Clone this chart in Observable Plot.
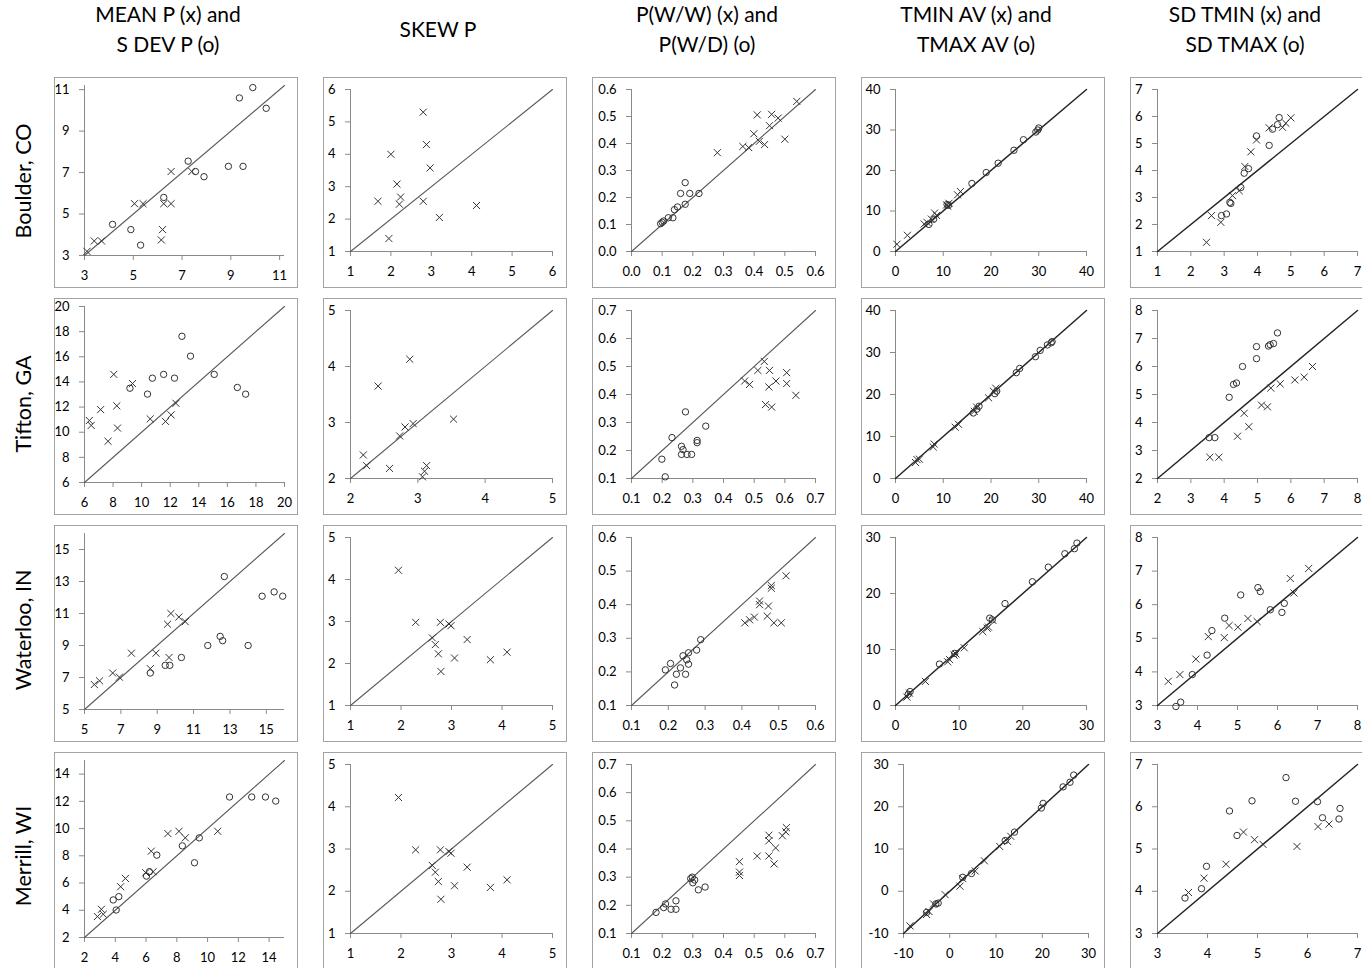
<!DOCTYPE html>
<html><head><meta charset="utf-8">
<script src="https://cdn.jsdelivr.net/npm/d3@7"></script>
<script src="https://cdn.jsdelivr.net/npm/@observablehq/plot@0.6"></script>
<style>
html,body{margin:0;padding:0;background:#fff;}
#chart{position:relative;width:1362px;height:968px;overflow:hidden;background:#fff;font-family:Lato,"Open Sans",sans-serif;color:#000;}
.panel{position:absolute;box-shadow:inset 0 0 0 1px #a3a3a3;}
.panel svg{position:absolute;left:0;top:0;background:transparent;}
.ctitle{position:absolute;width:260px;text-align:center;font-size:21px;line-height:30px;}
.rlabel{position:absolute;width:200px;height:26px;line-height:26px;text-align:center;font-size:21.5px;transform:rotate(-90deg);}
</style>
</head><body>
<div id="chart"></div>
<script>
// ---------- column titles & row labels ----------
const colTitles = [["MEAN P (x) and","S DEV P (o)"],["SKEW P"],["P(W/W) (x) and","P(W/D) (o)"],["TMIN AV (x) and","TMAX AV (o)"],["SD TMIN (x) and","SD TMAX (o)"]];
const rowLabels = ["Boulder, CO","Tifton, GA","Waterloo, IN","Merrill, WI"];

// ---------- axis extents and ticks ----------
const bMeanDomain=[3,11.2], bMeanTicks=[3,5,7,9,11];
const bSkewDomain=[1,6], bSkewTicks=[1,2,3,4,5,6];
const bPDomain=[0,0.6], bPTicks=[0,0.1,0.2,0.3,0.4,0.5,0.6];
const bTDomain=[0,40], bTTicks=[0,10,20,30,40];
const bSdDomain=[1,7], bSdTicks=[1,2,3,4,5,6,7];

const tMeanDomain=[6,20], tMeanTicks=[6,8,10,12,14,16,18,20];
const tSkewDomain=[2,5], tSkewTicks=[2,3,4,5];
const tPDomain=[0.1,0.7], tPTicks=[0.1,0.2,0.3,0.4,0.5,0.6,0.7];
const tTDomain=[0,40], tTTicks=[0,10,20,30,40];
const tSdDomain=[2,8], tSdTicks=[2,3,4,5,6,7,8];

const wMeanDomain=[5,16], wMeanTicks=[5,7,9,11,13,15];
const wSkewDomain=[1,5], wSkewTicks=[1,2,3,4,5];
const wPDomain=[0.1,0.6], wPTicks=[0.1,0.2,0.3,0.4,0.5,0.6];
const wTDomain=[0,30], wTTicks=[0,10,20,30];
const wSdDomain=[3,8], wSdTicks=[3,4,5,6,7,8];

const mMeanDomain=[2,15], mMeanTicks=[2,4,6,8,10,12,14];
const mSkewDomain=[1,5], mSkewTicks=[1,2,3,4,5];
const mPDomain=[0.1,0.7], mPTicks=[0.1,0.2,0.3,0.4,0.5,0.6,0.7];
const mTDomain=[-10,30], mTTicks=[-10,0,10,20,30];
const mSdDomain=[3,7], mSdTicks=[3,4,5,6,7];

// ---------- Boulder, CO ----------
const bMeanX=[[3.1,3.2],[3.4,3.7],[3.7,3.7],[5.05,5.5],[5.4,5.5],[6.25,5.5],[6.55,5.5],[6.55,7.05],[7.4,7.05],[6.2,4.25],[6.15,3.75]];
const bMeanO=[[4.15,4.5],[4.9,4.25],[5.3,3.5],[6.25,5.8],[7.25,7.55],[7.55,7.05],[7.9,6.8],[8.9,7.3],[9.5,7.3],[9.35,10.6],[9.9,11.1],[10.45,10.1]];
const bSkewX=[[2.8,5.3],[2.0,4.0],[2.88,4.3],[2.97,3.58],[2.15,3.08],[1.68,2.55],[2.24,2.68],[2.21,2.46],[2.8,2.55],[3.2,2.05],[4.12,2.42],[1.95,1.4]];
const bPwwX=[[0.28,0.366],[0.363,0.389],[0.382,0.385],[0.399,0.436],[0.41,0.506],[0.457,0.508],[0.45,0.466],[0.478,0.494],[0.417,0.408],[0.434,0.396],[0.5,0.416],[0.539,0.556]];
const bPwdO=[[0.095,0.103],[0.1,0.108],[0.105,0.113],[0.12,0.125],[0.135,0.125],[0.14,0.155],[0.15,0.165],[0.175,0.175],[0.16,0.215],[0.19,0.215],[0.22,0.215],[0.175,0.255]];
const bTminX=[[0.3,1.8],[2.5,4.0],[6.0,6.8],[6.6,7.2],[7.5,8.0],[8.2,9.5],[8.6,8.9],[10.7,11.5],[11.2,11.9],[13.0,14.0],[13.6,14.8],[10.9,11.2]];
const bTmaxO=[[7.0,6.7],[8.0,8.0],[10.8,11.6],[11.1,11.4],[16.0,16.8],[19.0,19.5],[21.5,21.8],[24.8,25.0],[26.8,27.6],[29.4,29.5],[30.0,30.5],[29.8,30.0]];
const bSdTminX=[[2.47,1.34],[2.62,2.33],[2.9,2.08],[3.25,3.07],[3.45,3.25],[3.62,4.15],[3.8,4.69],[3.97,5.13],[4.35,5.58],[4.75,5.6],[4.85,5.75],[5.0,5.95]];
const bSdTmaxO=[[2.92,2.33],[3.07,2.39],[3.17,2.82],[3.2,2.78],[3.5,3.37],[3.6,3.9],[3.73,4.07],[3.97,5.28],[4.35,4.93],[4.45,5.53],[4.6,5.7],[4.65,5.96]];

// ---------- Tifton, GA ----------
const tMeanX=[[6.34,10.93],[6.47,10.54],[7.13,11.8],[7.65,9.28],[8.05,14.6],[8.26,12.1],[8.31,10.33],[9.36,13.87],[10.6,11.06],[11.67,10.86],[12.06,11.38],[12.4,12.3]];
const tMeanO=[[9.18,13.5],[10.41,13.03],[10.75,14.3],[11.54,14.6],[12.3,14.3],[12.82,17.63],[13.42,16.05],[15.08,14.6],[16.7,13.56],[17.28,13.03]];
const tSkewX=[[2.88,4.13],[2.41,3.65],[3.53,3.06],[2.93,2.98],[2.81,2.92],[2.73,2.76],[2.19,2.42],[2.24,2.23],[2.58,2.18],[3.13,2.23],[3.1,2.13],[3.07,2.03]];
const tPwwX=[[0.469,0.448],[0.485,0.436],[0.512,0.486],[0.533,0.518],[0.55,0.486],[0.571,0.448],[0.548,0.427],[0.606,0.478],[0.606,0.439],[0.636,0.397],[0.537,0.364],[0.557,0.355]];
const tPwdO=[[0.199,0.169],[0.21,0.106],[0.232,0.246],[0.263,0.215],[0.268,0.203],[0.263,0.186],[0.281,0.186],[0.296,0.186],[0.276,0.338],[0.314,0.236],[0.314,0.228],[0.342,0.287]];
const tTminX=[[4.2,3.8],[4.5,4.5],[5.0,4.6],[7.9,7.5],[8.1,8.2],[12.5,12.2],[13.2,12.9],[16.5,16.0],[17.0,17.0],[19.5,19.2],[20.5,20.8],[21.0,21.5]];
const tTmaxO=[[16.3,15.6],[17.0,16.5],[17.5,17.2],[20.8,20.2],[21.2,20.8],[25.3,25.2],[26.0,26.2],[29.3,29.0],[30.3,30.5],[31.8,31.8],[32.6,32.3],[32.8,32.6]];
const tSdTminX=[[3.57,2.76],[3.84,2.76],[4.4,3.51],[4.74,3.85],[4.6,4.33],[5.12,4.62],[5.3,4.56],[5.4,5.23],[5.68,5.38],[6.12,5.52],[6.4,5.62],[6.65,6.0]];
const tSdTmaxO=[[3.55,3.46],[3.72,3.46],[4.15,4.9],[4.28,5.36],[4.37,5.41],[4.55,6.0],[4.97,6.28],[4.97,6.71],[5.33,6.73],[5.38,6.78],[5.48,6.82],[5.6,7.2]];

// ---------- Waterloo, IN ----------
const wMeanX=[[5.54,6.56],[5.83,6.79],[6.55,7.28],[6.92,7.02],[7.58,8.52],[8.62,7.55],[8.93,8.52],[9.65,8.25],[9.57,10.33],[9.75,11.0],[10.19,10.78],[10.54,10.49]];
const wMeanO=[[8.62,7.28],[9.44,7.76],[9.69,7.76],[10.33,8.25],[11.78,9.0],[12.46,9.57],[12.6,9.3],[12.69,13.31],[14.0,9.0],[14.77,12.08],[15.43,12.35],[15.9,12.08]];
const wSkewX=[[1.95,4.22],[2.29,2.98],[2.62,2.61],[2.68,2.45],[2.74,2.23],[2.78,2.98],[2.95,2.94],[2.99,2.9],[2.79,1.81],[3.06,2.13],[3.31,2.57],[3.77,2.09],[4.1,2.27]];
const wPwwX=[[0.408,0.346],[0.421,0.355],[0.434,0.363],[0.448,0.411],[0.448,0.4],[0.469,0.366],[0.472,0.396],[0.48,0.457],[0.48,0.449],[0.487,0.346],[0.507,0.346],[0.52,0.486]];
const wPwdO=[[0.192,0.206],[0.206,0.225],[0.217,0.161],[0.222,0.193],[0.233,0.212],[0.24,0.248],[0.247,0.193],[0.25,0.236],[0.255,0.223],[0.255,0.257],[0.277,0.265],[0.288,0.296]];
const wTminX=[[1.8,1.5],[2.2,2.2],[4.7,4.3],[8.2,7.8],[8.5,8.2],[9.2,9.0],[9.5,9.2],[10.8,10.3],[13.7,13.2],[14.4,13.8],[14.6,14.0],[15.3,15.2]];
const wTmaxO=[[2.0,2.0],[2.3,2.5],[6.9,7.4],[9.3,9.3],[14.8,15.6],[15.2,15.3],[17.2,18.2],[21.5,22.1],[24.0,24.7],[26.6,27.1],[28.1,28.0],[28.5,29.0]];
const wSdTminX=[[3.27,3.72],[3.56,3.92],[3.96,4.38],[4.27,5.05],[4.67,5.02],[4.79,5.38],[5.01,5.33],[5.26,5.59],[5.49,5.5],[6.32,6.78],[6.41,6.35],[6.78,7.08]];
const wSdTmaxO=[[3.46,2.97],[3.58,3.1],[3.87,3.92],[4.24,4.5],[4.36,5.23],[4.68,5.6],[5.08,6.29],[5.51,6.51],[5.57,6.39],[5.82,5.85],[6.11,5.77],[6.17,6.04]];

// ---------- Merrill, WI ----------
const mMeanX=[[2.84,3.54],[3.1,4.07],[3.22,3.71],[4.35,5.73],[4.66,6.34],[5.98,6.76],[6.34,8.34],[6.46,6.83],[7.42,9.63],[8.14,9.8],[8.55,9.32],[10.66,9.8]];
const mMeanO=[[3.87,4.76],[4.23,5.0],[4.06,4.02],[6.03,6.51],[6.22,6.83],[6.7,8.05],[8.36,8.73],[9.46,9.32],[9.15,7.49],[11.43,12.32],[12.87,12.32],[13.76,12.32],[14.43,12.02]];
const mSkewX=[[1.95,4.22],[2.29,2.98],[2.62,2.61],[2.68,2.45],[2.74,2.23],[2.78,2.98],[2.95,2.94],[2.99,2.9],[2.79,1.81],[3.06,2.13],[3.31,2.57],[3.77,2.09],[4.1,2.27]];
const mPwwX=[[0.452,0.355],[0.452,0.318],[0.452,0.306],[0.51,0.375],[0.548,0.449],[0.548,0.429],[0.548,0.375],[0.565,0.347],[0.57,0.404],[0.592,0.447],[0.603,0.461],[0.605,0.476]];
const mPwdO=[[0.18,0.175],[0.205,0.192],[0.211,0.205],[0.229,0.186],[0.245,0.186],[0.245,0.216],[0.293,0.295],[0.298,0.3],[0.3,0.28],[0.306,0.29],[0.318,0.255],[0.34,0.265]];
const mTminX=[[-8.6,-8.2],[-5.0,-5.5],[-4.5,-4.8],[-3.5,-3.0],[-1.0,-0.8],[2.2,1.2],[2.8,3.0],[5.5,4.8],[7.5,7.2],[10.8,10.6],[12.5,11.8],[13.2,13.0]];
const mTmaxO=[[-5.0,-5.0],[-3.0,-3.0],[-2.5,-2.8],[2.8,3.3],[4.7,4.2],[12.0,12.0],[14.0,14.0],[19.8,19.7],[20.2,20.8],[24.5,24.7],[26.0,25.8],[26.8,27.5]];
const mSdTminX=[[3.62,3.97],[3.93,4.31],[4.37,4.64],[4.72,5.4],[4.94,5.22],[5.11,5.11],[5.79,5.06],[6.21,5.53],[6.43,5.59]];
const mSdTmaxO=[[3.55,3.84],[3.88,4.06],[3.98,4.59],[4.44,5.9],[4.59,5.32],[4.89,6.14],[5.57,6.69],[5.76,6.13],[6.2,6.12],[6.3,5.74],[6.63,5.71],[6.65,5.96]];

// ---------- grid of panels ----------
const panels = [
  [ {x:bMeanX,o:bMeanO,d:bMeanDomain,t:bMeanTicks}, {x:bSkewX,o:[],d:bSkewDomain,t:bSkewTicks}, {x:bPwwX,o:bPwdO,d:bPDomain,t:bPTicks,f:1}, {x:bTminX,o:bTmaxO,d:bTDomain,t:bTTicks}, {x:bSdTminX,o:bSdTmaxO,d:bSdDomain,t:bSdTicks} ],
  [ {x:tMeanX,o:tMeanO,d:tMeanDomain,t:tMeanTicks}, {x:tSkewX,o:[],d:tSkewDomain,t:tSkewTicks}, {x:tPwwX,o:tPwdO,d:tPDomain,t:tPTicks,f:1}, {x:tTminX,o:tTmaxO,d:tTDomain,t:tTTicks}, {x:tSdTminX,o:tSdTmaxO,d:tSdDomain,t:tSdTicks} ],
  [ {x:wMeanX,o:wMeanO,d:wMeanDomain,t:wMeanTicks}, {x:wSkewX,o:[],d:wSkewDomain,t:wSkewTicks}, {x:wPwwX,o:wPwdO,d:wPDomain,t:wPTicks,f:1}, {x:wTminX,o:wTmaxO,d:wTDomain,t:wTTicks}, {x:wSdTminX,o:wSdTmaxO,d:wSdDomain,t:wSdTicks} ],
  [ {x:mMeanX,o:mMeanO,d:mMeanDomain,t:mMeanTicks}, {x:mSkewX,o:[],d:mSkewDomain,t:mSkewTicks}, {x:mPwwX,o:mPwdO,d:mPDomain,t:mPTicks,f:1}, {x:mTminX,o:mTmaxO,d:mTDomain,t:mTTicks,ml:42,mr:17}, {x:mSdTminX,o:mSdTmaxO,d:mSdDomain,t:mSdTicks} ]
];

// layout
const colLay = [
  {left:54,  ml:30, mr:14, mt:8,  mb:33, lw:1.1, lc:"#5a5a5a"},
  {left:323, ml:27, mr:15, mt:12, mb:37, lw:1.1, lc:"#5a5a5a"},
  {left:592, ml:39, mr:21, mt:12, mb:37, lw:1.1, lc:"#5a5a5a"},
  {left:861, ml:34, mr:19, mt:12, mb:37, lw:1.5, lc:"#262626"},
  {left:1130,ml:27, mr:17, mt:12, mb:37, lw:1.5, lc:"#262626"}
];
const rowLay = [{top:77,h:211},{top:298,h:217},{top:525,h:217},{top:752,h:218}];
const titleCenters = [168,438,707,976,1245];
const rowCenters = [181,404,630,856];
const PW = 244;

const chart = document.getElementById("chart");

colTitles.forEach((lines,i)=>{
  const d = document.createElement("div");
  d.className = "ctitle";
  d.style.left = (titleCenters[i]-130)+"px";
  d.style.top = (lines.length===1 ? 14 : -1)+"px";
  d.innerHTML = lines.map(s=>`<div>${s}</div>`).join("");
  chart.appendChild(d);
});
rowLabels.forEach((s,i)=>{
  const d = document.createElement("div");
  d.className = "rlabel";
  d.textContent = s;
  d.style.left = (23-100)+"px";
  d.style.top = (rowCenters[i]-13)+"px";
  chart.appendChild(d);
});

const axisGray = "#8a8a8a";
const fmtInt = d => String(Math.round(d));
const fmtOne = d => d.toFixed(1);
panels.forEach((row,ri)=>{
  row.forEach((p,ci)=>{
    const L = colLay[ci], R = rowLay[ri];
    const ml = p.ml ?? L.ml, mr = p.mr ?? L.mr;
    const fmt = p.f ? fmtOne : fmtInt;
    const line = p.d.map(v=>({a:v,b:v}));
    const plot = Plot.plot({
      width: PW, height: R.h,
      marginLeft: ml, marginRight: mr, marginTop: L.mt, marginBottom: L.mb,
      x: {domain: p.d},
      y: {domain: p.d},
      style: {background:"transparent", fontFamily:"Lato, 'Open Sans', sans-serif", fontSize:"13px", color:"#000", overflow:"visible"},
      marks: [
        Plot.axisX({ticks: p.t, tickFormat: fmt, tickSize: 5, tickPadding: 10, stroke: axisGray, fill: "#000", label: null}),
        Plot.axisY({ticks: p.t, tickFormat: fmt, tickSize: 5, tickPadding: 10, stroke: axisGray, fill: "#000", label: null}),
        Plot.ruleX([p.d[0]], {stroke: axisGray, strokeWidth: 1}),
        Plot.ruleY([p.d[0]], {stroke: axisGray, strokeWidth: 1}),
        Plot.line(line, {x:"a", y:"b", stroke: L.lc, strokeWidth: L.lw}),
        Plot.dot(p.o, {x: d=>d[0], y: d=>d[1], r: 3.2, symbol: "circle", fill: "none", stroke: "#333", strokeWidth: 1}),
        Plot.dot(p.x, {x: d=>d[0], y: d=>d[1], r: 3.3, symbol: "times", stroke: "#333", strokeWidth: 1})
      ]
    });
    const wrap = document.createElement("div");
    wrap.className = "panel";
    wrap.style.left = L.left+"px";
    wrap.style.top = R.top+"px";
    wrap.style.width = PW+"px";
    wrap.style.height = R.h+"px";
    wrap.appendChild(plot);
    chart.appendChild(wrap);
  });
});
</script>
</body></html>
